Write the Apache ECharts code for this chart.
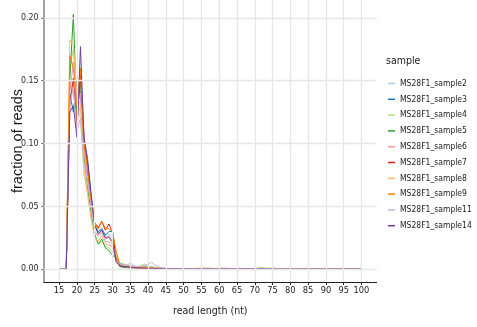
<!DOCTYPE html>
<html><head><meta charset="utf-8">
<script src="https://cdn.jsdelivr.net/npm/echarts@6/dist/echarts.min.js"></script>
<style>html,body{margin:0;padding:0;background:#fff}#c{width:477px;height:327px}</style>
</head><body><div id="c"></div>
<script>
const lengths = [15,16,17,18,19,20,21,22,23,24,25,26,27,28,29,30,31,32,33,34,35,36,37,38,39,40,41,42,43,44,45,46,47,48,49,50,51,52,53,54,55,56,57,58,59,60,61,62,63,64,65,66,67,68,69,70,71,72,73,74,75,76,77,78,79,80,81,82,83,84,85,86,87,88,89,90,91,92,93,94,95,96,97,98,99,100];
const xTicks = [15,20,25,30,35,40,45,50,55,60,65,70,75,80,85,90,95,100];
const yTicks = [0,0.05,0.1,0.15,0.2];
const sampleNames = ['MS28F1_sample2','MS28F1_sample3','MS28F1_sample4','MS28F1_sample5','MS28F1_sample6','MS28F1_sample7','MS28F1_sample8','MS28F1_sample9','MS28F1_sample11','MS28F1_sample14'];

const sample2 = [
0,0,0,0.150,0.140,0.120,0.130,0.090,0.074,0.050,
0.033,0.029,0.033,0.027,0.028,0.025,0.010,0.004,0.004,0.003,
0.005,0.003,0.002,0.002,0.003,0.002,0.002,0.001,0.001,0.0008,
0.0006,0.0005,0.0004,0.0004,0.0003,0.0003,0.0003,0.0003,0.0004,0.0004,
0.0005,0.0006,0.0006,0.0005,0.0004,0.0005,0.0006,0.0005,0.0004,0.0003,
0.0003,0.0003,0.0003,0.0004,0.0004,0.0005,0.0006,0.0007,0.0005,0.0004,
0.0004,0.0003,0.0003,0.0002,0.0002,0.0002,0.0002,0.0002,0.0002,0.0002,
0.0001,0.0001,0.0001,0.0001,0.0001,0.0001,0.0001,0.0001,0.0001,0.0001,
0.0001,0.0001,0.0001,0.0001,0.0001,0.0001];
const sample3 = [
0,0,0,0.140,0.125,0.150,0.140,0.100,0.085,0.058,
0.035,0.030,0.032,0.027,0.030,0.030,0.010,0.005,0.004,0.003,
0.003,0.002,0.002,0.002,0.002,0.0015,0.0012,0.001,0.0008,0.0006,
0.0005,0.0004,0.0004,0.0003,0.0003,0.0003,0.0003,0.0002,0.0002,0.0002,
0.0003,0.0003,0.0004,0.0003,0.0003,0.0003,0.0004,0.0003,0.0003,0.0002,
0.0002,0.0002,0.0002,0.0003,0.0003,0.0003,0.0004,0.0004,0.0003,0.0002,
0.0002,0.0002,0.0002,0.0001,0.0001,0.0001,0.0001,0.0001,0.0001,0.0001,
0.0001,0.0001,0.0001,0.0001,0.0001,0.0001,0.0001,0.0001,0.0001,0.0001,
0.0001,0.0001,0.0001,0.0001,0.0001,0.0001];
const sample4 = [
0,0,0,0.160,0.175,0.130,0.120,0.075,0.060,0.040,
0.025,0.020,0.022,0.018,0.017,0.014,0.011,0.005,0.004,0.003,
0.003,0.002,0.002,0.003,0.004,0.002,0.002,0.0015,0.001,0.0008,
0.0006,0.0005,0.0005,0.0004,0.0004,0.0004,0.0005,0.0005,0.0006,0.0007,
0.0007,0.0008,0.0007,0.0006,0.0006,0.0007,0.0008,0.0007,0.0006,0.0005,
0.0005,0.0004,0.0004,0.0005,0.0005,0.0006,0.0010,0.0015,0.0010,0.0006,
0.0008,0.0005,0.0004,0.0003,0.0003,0.0003,0.0003,0.0002,0.0002,0.0002,
0.0002,0.0002,0.0002,0.0001,0.0001,0.0001,0.0001,0.0001,0.0001,0.0001,
0.0001,0.0001,0.0001,0.0001,0.0001,0.0001];
const sample5 = [
0,0,0,0.150,0.203,0.120,0.150,0.090,0.065,0.045,
0.028,0.020,0.024,0.017,0.015,0.011,0.009,0.002,0.0015,0.0012,
0.001,0.001,0.001,0.0008,0.0008,0.0006,0.0005,0.0004,0.0004,0.0003,
0.0003,0.0003,0.0002,0.0002,0.0002,0.0002,0.0002,0.0002,0.0002,0.0002,
0.0002,0.0003,0.0003,0.0002,0.0002,0.0002,0.0003,0.0002,0.0002,0.0002,
0.0002,0.0002,0.0002,0.0002,0.0002,0.0002,0.0003,0.0003,0.0002,0.0002,
0.0002,0.0001,0.0001,0.0001,0.0001,0.0001,0.0001,0.0001,0.0001,0.0001,
0.0001,0.0001,0.0001,0.0001,0.0001,0.0001,0.0001,0.0001,0.0001,0.0001,
0.0001,0.0001,0.0001,0.0001,0.0001,0.0001];
const sample6 = [
0,0,0,0.140,0.165,0.135,0.140,0.095,0.070,0.050,
0.030,0.027,0.030,0.024,0.025,0.020,0.010,0.004,0.003,0.002,
0.002,0.002,0.0015,0.0015,0.0015,0.0012,0.001,0.0008,0.0007,0.0006,
0.0005,0.0004,0.0004,0.0003,0.0003,0.0003,0.0003,0.0003,0.0003,0.0003,
0.0004,0.0004,0.0004,0.0003,0.0003,0.0004,0.0005,0.0004,0.0003,0.0003,
0.0003,0.0003,0.0003,0.0003,0.0003,0.0003,0.0004,0.0004,0.0003,0.0003,
0.0003,0.0002,0.0002,0.0002,0.0002,0.0002,0.0001,0.0001,0.0001,0.0001,
0.0001,0.0001,0.0001,0.0001,0.0001,0.0001,0.0001,0.0001,0.0001,0.0001,
0.0001,0.0001,0.0001,0.0001,0.0001,0.0001];
const sample7 = [
0,0,0,0.130,0.152,0.115,0.155,0.105,0.080,0.055,
0.037,0.033,0.038,0.031,0.036,0.029,0.008,0.003,0.002,0.002,
0.0015,0.0012,0.001,0.001,0.0009,0.0008,0.0007,0.0006,0.0005,0.0004,
0.0004,0.0003,0.0003,0.0003,0.0002,0.0002,0.0002,0.0002,0.0002,0.0002,
0.0002,0.0003,0.0003,0.0002,0.0002,0.0002,0.0003,0.0002,0.0002,0.0002,
0.0002,0.0002,0.0002,0.0002,0.0002,0.0002,0.0002,0.0003,0.0002,0.0002,
0.0002,0.0001,0.0001,0.0001,0.0001,0.0001,0.0001,0.0001,0.0001,0.0001,
0.0001,0.0001,0.0001,0.0001,0.0001,0.0001,0.0001,0.0001,0.0001,0.0001,
0.0001,0.0001,0.0001,0.0001,0.0001,0.0001];
const sample8 = [
0,0,0,0.182,0.178,0.140,0.130,0.080,0.060,0.040,
0.025,0.022,0.027,0.020,0.019,0.018,0.012,0.004,0.003,0.003,
0.003,0.002,0.002,0.002,0.002,0.0015,0.0012,0.001,0.0009,0.0008,
0.0006,0.0005,0.0005,0.0004,0.0004,0.0004,0.0004,0.0005,0.0005,0.0006,
0.0007,0.0008,0.0008,0.0007,0.0006,0.0006,0.0007,0.0006,0.0005,0.0005,
0.0004,0.0004,0.0004,0.0004,0.0005,0.0005,0.0006,0.0008,0.0006,0.0005,
0.0010,0.0006,0.0004,0.0003,0.0003,0.0003,0.0002,0.0002,0.0002,0.0002,
0.0002,0.0002,0.0001,0.0001,0.0001,0.0001,0.0001,0.0001,0.0001,0.0001,
0.0001,0.0001,0.0001,0.0001,0.0001,0.0001];
const sample9 = [
0,0,0,0.170,0.160,0.130,0.160,0.100,0.080,0.055,
0.036,0.032,0.038,0.033,0.032,0.030,0.015,0.004,0.003,0.002,
0.002,0.0015,0.0012,0.001,0.001,0.0009,0.0008,0.0007,0.0006,0.0005,
0.0004,0.0004,0.0003,0.0003,0.0003,0.0002,0.0002,0.0002,0.0002,0.0002,
0.0003,0.0003,0.0003,0.0003,0.0002,0.0003,0.0003,0.0003,0.0002,0.0002,
0.0002,0.0002,0.0002,0.0002,0.0002,0.0002,0.0003,0.0003,0.0002,0.0002,
0.0002,0.0002,0.0001,0.0001,0.0001,0.0001,0.0001,0.0001,0.0001,0.0001,
0.0001,0.0001,0.0001,0.0001,0.0001,0.0001,0.0001,0.0001,0.0001,0.0001,
0.0001,0.0001,0.0001,0.0001,0.0001,0.0001];
const sample11 = [
0,0,0,0.130,0.145,0.110,0.120,0.085,0.070,0.050,
0.030,0.026,0.029,0.022,0.022,0.017,0.007,0.004,0.003,0.003,
0.003,0.002,0.002,0.002,0.003,0.004,0.0056,0.003,0.002,0.001,
0.0007,0.0005,0.0005,0.0004,0.0004,0.0004,0.0004,0.0004,0.0005,0.0005,
0.0005,0.0006,0.0006,0.0005,0.0005,0.0006,0.0006,0.0005,0.0004,0.0004,
0.0004,0.0003,0.0003,0.0004,0.0004,0.0004,0.0005,0.0005,0.0004,0.0003,
0.0003,0.0003,0.0002,0.0002,0.0002,0.0002,0.0002,0.0002,0.0001,0.0001,
0.0001,0.0001,0.0001,0.0001,0.0001,0.0001,0.0001,0.0001,0.0001,0.0001,
0.0001,0.0001,0.0001,0.0001,0.0001,0.0001];
const sample14 = [
0,0,0,0.125,0.130,0.105,0.177,0.105,0.088,0.060,
0.035,0.028,0.031,0.025,0.026,0.022,0.006,0.003,0.002,0.002,
0.0015,0.0012,0.001,0.001,0.0009,0.0008,0.0007,0.0006,0.0005,0.0004,
0.0004,0.0003,0.0003,0.0003,0.0002,0.0002,0.0002,0.0002,0.0002,0.0002,
0.0002,0.0002,0.0002,0.0002,0.0002,0.0002,0.0002,0.0002,0.0002,0.0002,
0.0002,0.0002,0.0002,0.0002,0.0002,0.0002,0.0002,0.0002,0.0002,0.0002,
0.0001,0.0001,0.0001,0.0001,0.0001,0.0001,0.0001,0.0001,0.0001,0.0001,
0.0001,0.0001,0.0001,0.0001,0.0001,0.0001,0.0001,0.0001,0.0001,0.0001,
0.0001,0.0001,0.0001,0.0001,0.0001,0.0001];

const seriesValues = [sample2,sample3,sample4,sample5,sample6,sample7,sample8,sample9,sample11,sample14];
const palette = ['#A6CEE3','#1F78B4','#B2DF8A','#33A02C','#FB9A99','#E31A1C','#FDBF6F','#FF7F00','#CAB2D6','#6A3D9A'];

const narrow = "'DejaVu Sans Condensed','DejaVu Sans',sans-serif";
const gridColor = '#E6E6E6';

const lineSeries = sampleNames.map((name, k) => ({
  name: name,
  type: 'line',
  showSymbol: false,
  symbol: 'none',
  color: palette[k],
  lineStyle: { width: 1, color: palette[k] },
  z: 3,
  animation: false,
  data: lengths.map((x, i) => [x, seriesValues[k][i]])
}));

const gridSeries = {
  type: 'line',
  data: [],
  z: 1,
  silent: true,
  animation: false,
  markLine: {
    silent: true,
    animation: false,
    symbol: ['none','none'],
    label: { show: false },
    lineStyle: { color: gridColor, width: 1.3, type: 'solid' },
    emphasis: { disabled: true },
    data: xTicks.map(v => ({ xAxis: v })).concat(yTicks.map(v => ({ yAxis: v })))
  }
};

const chart = echarts.init(document.getElementById('c'), null, { renderer: 'canvas' });
chart.setOption({
  backgroundColor: '#fff',
  animation: false,
  title: {
    text: 'sample', left: 386, top: 55.5, padding: 0,
    textStyle: { fontSize: 10.5, fontWeight: 'normal', color: '#1a1a1a', fontFamily: narrow }
  },
  legend: {
    data: sampleNames,
    orient: 'vertical',
    left: 388, top: 76.5, width: 100, padding: 0,
    icon: 'rect',
    itemWidth: 7, itemHeight: 1.5,
    itemGap: 1.8,
    textStyle: { fontSize: 8.5, color: '#1a1a1a', fontFamily: narrow, lineHeight: 14, overflow: 'none', width: 90 }
  },
  grid: { left: 44, right: 100.4, top: 0, bottom: 45, containLabel: false, outerBoundsMode: 'none' },
  xAxis: {
    type: 'value', min: 10.75, max: 104.25,
    name: 'read length (nt)', nameLocation: 'middle', nameGap: 24,
    nameTextStyle: { fontSize: 10.5, color: '#1a1a1a', fontFamily: narrow },
    axisLine: { show: true, onZero: false, lineStyle: { color: '#222', width: 1 } },
    axisTick: { show: true, customValues: xTicks, length: 3, lineStyle: { color: '#222' } },
    axisLabel: { customValues: xTicks, fontSize: 9.2, color: '#1a1a1a', margin: 4, fontFamily: narrow },
    splitLine: { show: false }
  },
  yAxis: {
    type: 'value', min: -0.0102, max: 0.2142,
    name: 'fraction of reads', nameLocation: 'middle', nameGap: 19, nameRotate: 90, nameMoveOverlap: false,
    nameTextStyle: { fontSize: 14.5, color: '#1a1a1a', fontFamily: "'Liberation Sans',sans-serif" },
    axisLine: { show: true, onZero: false, lineStyle: { color: '#A0A0A0', width: 2 } },
    axisTick: { show: true, customValues: yTicks, length: 3, lineStyle: { color: '#888' } },
    axisLabel: { customValues: yTicks, fontSize: 8.8, color: '#2a2a2a', margin: 5.5, fontFamily: narrow,
      formatter: v => v.toFixed(2) },
    splitLine: { show: false }
  },
  series: [gridSeries].concat(lineSeries)
});
</script>
</body></html>
